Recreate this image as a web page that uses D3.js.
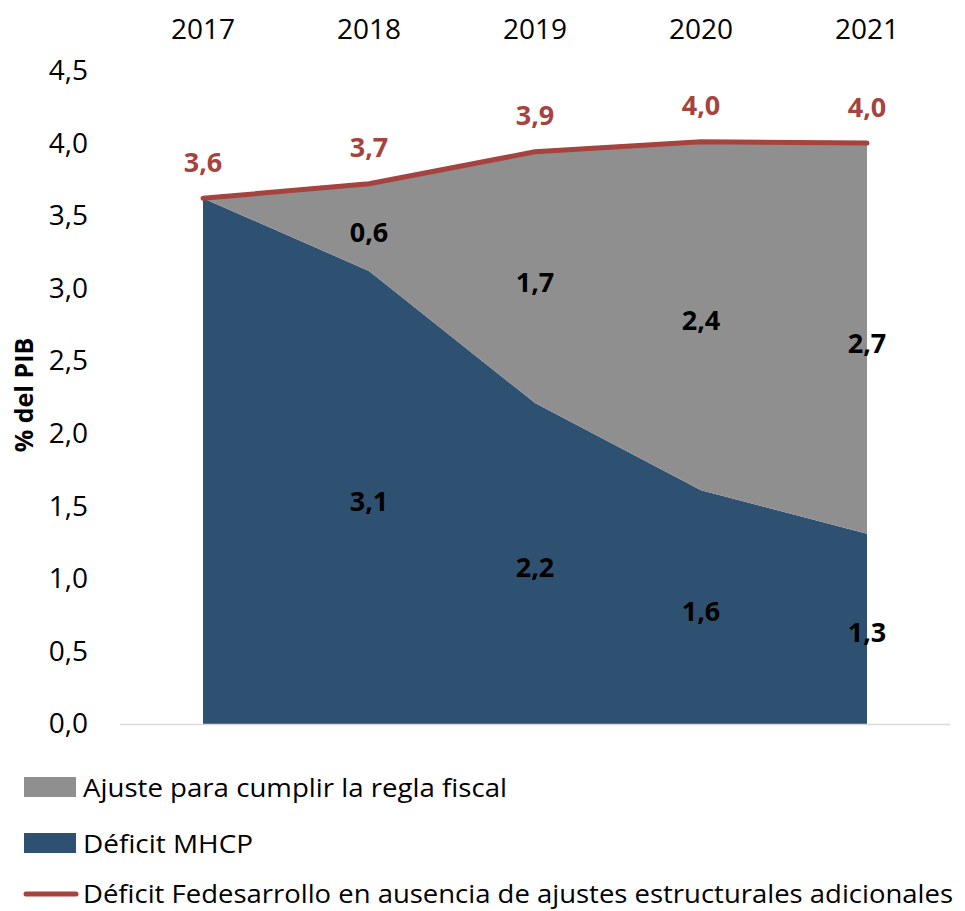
<!DOCTYPE html>
<html>
<head>
<meta charset="utf-8">
<script src="https://cdn.jsdelivr.net/npm/d3@7"></script>
<style>
  html, body { margin: 0; padding: 0; background: #fff; }
  svg { display: block; font-family: "Open Sans", sans-serif; }
</style>
</head>
<body>
<svg id="chart" width="965" height="911"></svg>
<script>
const years = ["2017", "2018", "2019", "2020", "2021"];
const deficitMHCP = [3.62, 3.12, 2.21, 1.61, 1.31];
const ajusteRegla = [0, 0.6, 1.73, 2.4, 2.69];
const deficitFedesarrollo = [3.62, 3.72, 3.94, 4.01, 4.0];
const yTicks = [0, 0.5, 1, 1.5, 2, 2.5, 3, 3.5, 4, 4.5];
const legendLabels = [
  "Ajuste para cumplir la regla fiscal",
  "Déficit MHCP",
  "Déficit Fedesarrollo en ausencia de ajustes estructurales adicionales"
];

const colors = { gray: "#8f8f8f", blue: "#2f5171", red: "#a5433f" };
const fmt = v => d3.format(".1f")(v).replace(".", ",");

const svg = d3.select("#chart");
const x = d3.scaleBand().domain(years).range([120, 950]);
const cx = d => x(d) + x.bandwidth() / 2;
const y = d3.scaleLinear().domain([0, 4.5]).range([724, 70.5]);

const data = years.map((yr, i) => ({ yr, blue: deficitMHCP[i], gray: ajusteRegla[i], red: deficitFedesarrollo[i] }));
const stack = d3.stack().keys(["blue", "gray"])(data);

const area = d3.area().x(d => cx(d.data.yr)).y0(d => y(d[0])).y1(d => y(d[1]));
svg.append("g").selectAll("path").data(stack).join("path")
  .attr("d", area)
  .attr("fill", (d, i) => i === 0 ? colors.blue : colors.gray);

// x axis line
svg.append("line").attr("x1", 120).attr("x2", 950).attr("y1", y(0) + 0.5).attr("y2", y(0) + 0.5)
  .attr("stroke", "#d9d9d9").attr("stroke-width", 1.5);

// red line
const line = d3.line().x(d => cx(d.yr)).y(d => y(d.red));
svg.append("path").datum(data).attr("d", line)
  .attr("fill", "none").attr("stroke", colors.red).attr("stroke-width", 5)
  .attr("stroke-linecap", "round").attr("stroke-linejoin", "round");

// y axis (no line, labels only)
const yAxis = d3.axisLeft(y).tickValues(yTicks).tickFormat(fmt).tickSize(0).tickPadding(0);
const gy = svg.append("g").attr("transform", "translate(88,0)").call(yAxis);
gy.select(".domain").remove();
gy.selectAll("text").attr("font-size", 28).attr("fill", "#000").attr("font-family", "Open Sans");

// top x axis labels
const xAxis = d3.axisTop(x).tickSize(0).tickPadding(0);
const gx = svg.append("g").attr("transform", "translate(0,39)").call(xAxis);
gx.select(".domain").remove();
gx.selectAll("text").attr("font-size", 28).attr("fill", "#000").attr("font-family", "Open Sans");

// y title
svg.append("text").attr("transform", "translate(33,395) rotate(-90)")
  .attr("text-anchor", "middle").attr("font-size", 25).attr("font-weight", "bold").text("% del PIB");

// data labels
const lbl = svg.append("g").attr("font-size", 27).attr("font-weight", "bold").attr("text-anchor", "middle")
  .attr("dominant-baseline", "central");
lbl.selectAll(".r").data(data).join("text").attr("class", "r")
  .attr("x", d => cx(d.yr)).attr("y", d => y(d.red) - 37).attr("fill", colors.red).text(d => fmt(d.red));
lbl.selectAll(".g").data(data.filter(d => d.gray > 0)).join("text").attr("class", "g")
  .attr("x", d => cx(d.yr)).attr("y", d => y(d.blue + d.gray / 2) + 4).attr("fill", "#000").text(d => fmt(d.gray));
lbl.selectAll(".b").data(data.slice(1)).join("text").attr("class", "b")
  .attr("x", d => cx(d.yr)).attr("y", d => y(d.blue / 2) + 3).attr("fill", "#000").text(d => fmt(d.blue));

// legend
const leg = svg.append("g");
const legY = [787, 843, 893];
const legW = [424, 170, 870];
leg.append("rect").attr("x", 24).attr("y", legY[0] - 10).attr("width", 52).attr("height", 20).attr("fill", colors.gray);
leg.append("rect").attr("x", 24).attr("y", legY[1] - 10).attr("width", 52).attr("height", 20).attr("fill", colors.blue);
leg.append("line").attr("x1", 26).attr("x2", 76).attr("y1", legY[2] + 1).attr("y2", legY[2] + 1)
  .attr("stroke", colors.red).attr("stroke-width", 5).attr("stroke-linecap", "round");
leg.selectAll("text").data(legendLabels).join("text")
  .attr("x", 83).attr("y", (d, i) => legY[i]).attr("dominant-baseline", "central")
  .attr("font-size", (d, i) => i === 2 ? 25 : 26).attr("fill", "#000")
  .attr("textLength", (d, i) => legW[i]).attr("lengthAdjust", "spacingAndGlyphs")
  .text(d => d);
</script>
</body>
</html>
